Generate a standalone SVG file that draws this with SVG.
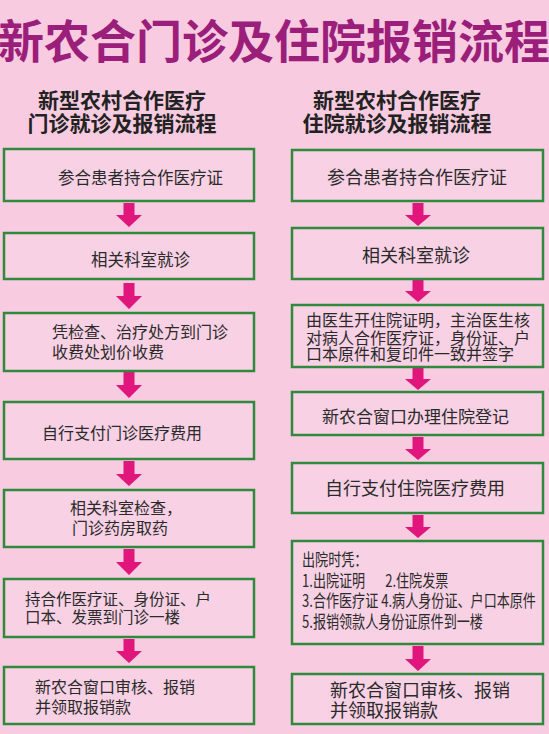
<svg xmlns="http://www.w3.org/2000/svg" width="549" height="734" viewBox="0 0 549 734">
<style>
.bg{fill:#f8cbe0}
.box{fill:#f9d1e4;stroke:#2f8a3f;stroke-width:2.5}
.arr{fill:#e0167c}
.t{font-family:"Noto Sans CJK SC","Noto Sans",sans-serif;fill:#2a2a2a}
.title{font-family:"Noto Sans CJK SC","Noto Sans",sans-serif;font-weight:bold;fill:#9b1e7b;font-size:46px}
.sub{font-family:"Noto Sans CJK SC","Noto Sans",sans-serif;font-weight:bold;fill:#222;font-size:21px}
</style>
<rect class="bg" x="0" y="0" width="549" height="734"/>
<text class="title" x="274" y="58" text-anchor="middle">新农合门诊及住院报销流程</text>
<g id="sub-left">
<text class="sub" x="122" y="108" text-anchor="middle">新型农村合作医疗</text>
<text class="sub" x="122" y="131" text-anchor="middle">门诊就诊及报销流程</text>
</g>
<g id="sub-right">
<text class="sub" x="397" y="108" text-anchor="middle">新型农村合作医疗</text>
<text class="sub" x="397" y="131" text-anchor="middle">住院就诊及报销流程</text>
</g>
<g id="connectors">
<path class="arr" d="M123.5,203 h11 v12 h7.5 l-13,12 l-13,-12 h7.5 z"/>
<path class="arr" d="M123.5,283 h11 v13 h7.5 l-13,13 l-13,-13 h7.5 z"/>
<path class="arr" d="M123.5,372 h11 v13 h7.5 l-13,13 l-13,-13 h7.5 z"/>
<path class="arr" d="M123.5,461 h11 v13 h7.5 l-13,12 l-13,-12 h7.5 z"/>
<path class="arr" d="M123.5,549 h11 v13 h7.5 l-13,13 l-13,-13 h7.5 z"/>
<path class="arr" d="M123.5,639 h11 v12 h7.5 l-13,12 l-13,-12 h7.5 z"/>
<path class="arr" d="M412.5,203 h11 v12 h7.5 l-13,11 l-13,-11 h7.5 z"/>
<path class="arr" d="M412.5,280 h11 v11 h7.5 l-13,11 l-13,-11 h7.5 z"/>
<path class="arr" d="M412.5,368 h11 v11 h7.5 l-13,11 l-13,-11 h7.5 z"/>
<path class="arr" d="M412.5,437 h11 v12 h7.5 l-13,11 l-13,-11 h7.5 z"/>
<path class="arr" d="M412.5,515 h11 v12 h7.5 l-13,11 l-13,-11 h7.5 z"/>
<path class="arr" d="M412.5,646 h11 v13 h7.5 l-13,12 l-13,-12 h7.5 z"/>
</g>
<g id="L1"><rect class="box" x="4" y="149" width="250" height="52"/><text class="t" x="58" y="184" font-size="16.5">参合患者持合作医疗证</text></g>
<g id="L2"><rect class="box" x="4" y="233" width="250" height="46"/><text class="t" x="91" y="266" font-size="16.5">相关科室就诊</text></g>
<g id="L3"><rect class="box" x="4" y="313" width="250" height="58"/><text class="t" font-size="16"><tspan x="52" y="337.5">凭检查、治疗处方到门诊</tspan><tspan x="52" y="357.5">收费处划价收费</tspan></text></g>
<g id="L4"><rect class="box" x="4" y="402" width="250" height="57"/><text class="t" x="42" y="439" font-size="16">自行支付门诊医疗费用</text></g>
<g id="L5"><rect class="box" x="4" y="490" width="250" height="57"/><text class="t" font-size="16"><tspan x="70" y="514">相关科室检查，</tspan><tspan x="72" y="534">门诊药房取药</tspan></text></g>
<g id="L6"><rect class="box" x="4" y="579" width="250" height="58"/><text class="t" font-size="15.5"><tspan x="25" y="605">持合作医疗证、身份证、户</tspan><tspan x="25" y="623">口本、发票到门诊一楼</tspan></text></g>
<g id="L7"><rect class="box" x="4" y="667" width="250" height="57"/><text class="t" font-size="16"><tspan x="35" y="693">新农合窗口审核、报销</tspan><tspan x="35" y="713">并领取报销款</tspan></text></g>
<g id="R1"><rect class="box" x="292" y="150" width="251" height="51"/><text class="t" x="327" y="184" font-size="18">参合患者持合作医疗证</text></g>
<g id="R2"><rect class="box" x="292" y="228" width="251" height="51"/><text class="t" x="362" y="262" font-size="18">相关科室就诊</text></g>
<g id="R3"><rect class="box" x="292" y="305" width="251" height="62"/><text class="t" font-size="16"><tspan x="306" y="326">由医生开住院证明，主治医生核</tspan><tspan x="306" y="343.5">对病人合作医疗证，身份证、户</tspan><tspan x="306" y="360">口本原件和复印件一致并签字</tspan></text></g>
<g id="R4"><rect class="box" x="292" y="392" width="251" height="43"/><text class="t" x="322" y="423" font-size="17">新农合窗口办理住院登记</text></g>
<g id="R5"><rect class="box" x="292" y="463" width="251" height="50"/><text class="t" x="325" y="495" font-size="18">自行支付住院医疗费用</text></g>
<g id="R6"><rect class="box" x="292" y="541" width="251" height="103"/>
<g transform="translate(302 0) scale(0.77 1)"><text class="t" font-size="17"><tspan x="0" y="566">出院时凭：</tspan><tspan x="0" y="587">1.出院证明</tspan><tspan x="108" y="587">2.住院发票</tspan><tspan x="0" y="607">3.合作医疗证 4.病人身份证、户口本原件</tspan><tspan x="0" y="628">5.报销领款人身份证原件到一楼</tspan></text></g></g>
<g id="R7"><rect class="box" x="292" y="674" width="251" height="50"/><text class="t" font-size="18"><tspan x="330" y="697">新农合窗口审核、报销</tspan><tspan x="330" y="717">并领取报销款</tspan></text></g>
</svg>
